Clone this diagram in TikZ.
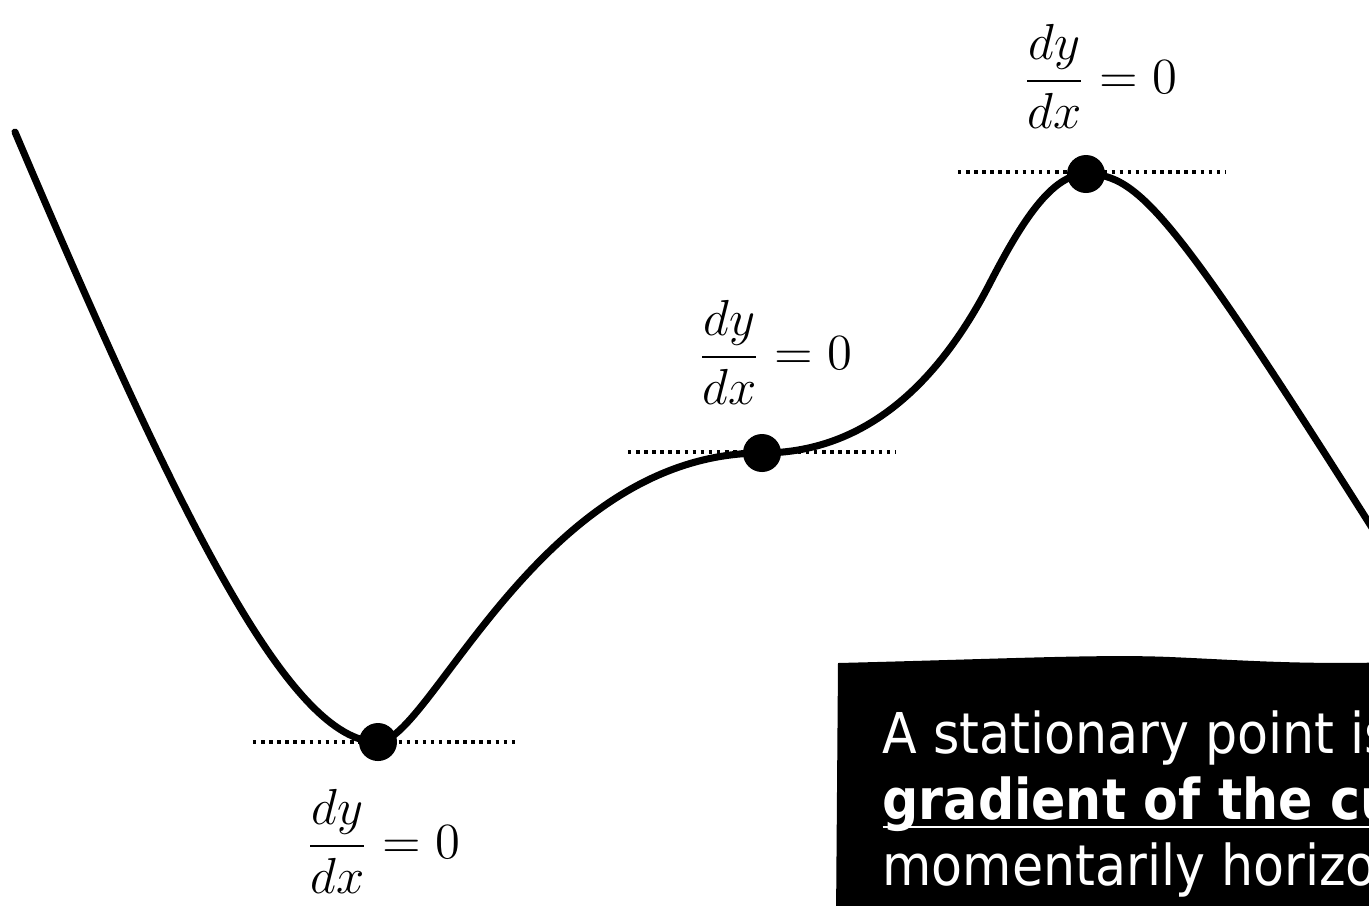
\documentclass[tikz,border=0pt]{standalone}
\usepackage{amsmath}
\usepackage{fontspec}
\newfontfamily\notefont{DejaVu Sans Condensed}
\usetikzlibrary{positioning}
\newcommand{\dydx}{$\dfrac{dy}{dx} = 0$}
\newcommand{\uln}[1]{\setbox0\hbox{#1}\rlap{\rule[-2.6pt]{\wd0}{0.6pt}}\box0}

\begin{document}
\begin{tikzpicture}[x=0.01cm, y=-0.01cm,
  dot/.style={circle, fill=black, inner sep=0pt, minimum size=0.38cm},
  tangent/.style={line width=0.9pt, dash pattern=on 1pt off 1.3pt},
  curve/.style={line width=2pt, line cap=round},
  lbl/.style={inner sep=0pt, font=\fontsize{15.5}{19}\selectfont},
  note/.style={text=white, align=left, inner sep=0pt,
               font=\notefont\fontsize{16}{18.7}\selectfont}]
\useasboundingbox (0,0) rectangle (1369,905);
% stationary points
\coordinate (st) at (15,132);
\coordinate (mn) at (378,742);
\coordinate (infl) at (762,453);
\coordinate (steep) at (990,283);
\coordinate (mx) at (1086,174);
\coordinate (en) at (1400,572);
% horizontal tangents
\draw[tangent] ([xshift=-1.25cm]mn) -- ([xshift=1.41cm]mn);
\draw[tangent] ([xshift=-1.34cm, yshift=0.01cm]infl) -- ([xshift=1.33cm, yshift=0.01cm]infl);
\draw[tangent] ([xshift=-1.28cm, yshift=0.02cm]mx) -- ([xshift=1.39cm, yshift=0.02cm]mx);
% the curve
\draw[curve] (st) .. controls (180,520) and (290,742) .. (mn)
  .. controls (430,742) and (540,453) .. (infl)
  .. controls (860,453) and (935,390) .. (steep)
  .. controls (1022,221) and (1052,174) .. (mx)
  .. controls (1140,174) and (1175,215) .. (en);
\node[dot] (mndot) at (mn) {};
\node[dot] (infldot) at (infl) {};
\node[dot] (mxdot) at (mx) {};
\node[lbl, below=0.27cm of mndot, xshift=0.05cm] (mnlbl) {\dydx};
\node[lbl, above=0.28cm of infldot, xshift=0.13cm] (infllbl) {\dydx};
\node[lbl, above=0.25cm of mxdot, xshift=0.14cm] (mxlbl) {\dydx};
% note box
\fill (838,663) .. controls (1000,659) and (1100,654) .. (1170,657)
  .. controls (1240,660) and (1300,665) .. (1400,662)
  -- (1400,920) -- (836,920) -- cycle;
\node[note, anchor=base west] (notetxt) at (882,885)
  {A stationary point is\\ \textbf{\uln{gradient of the curve}}\\ momentarily horizontal};
\end{tikzpicture}
\end{document}
